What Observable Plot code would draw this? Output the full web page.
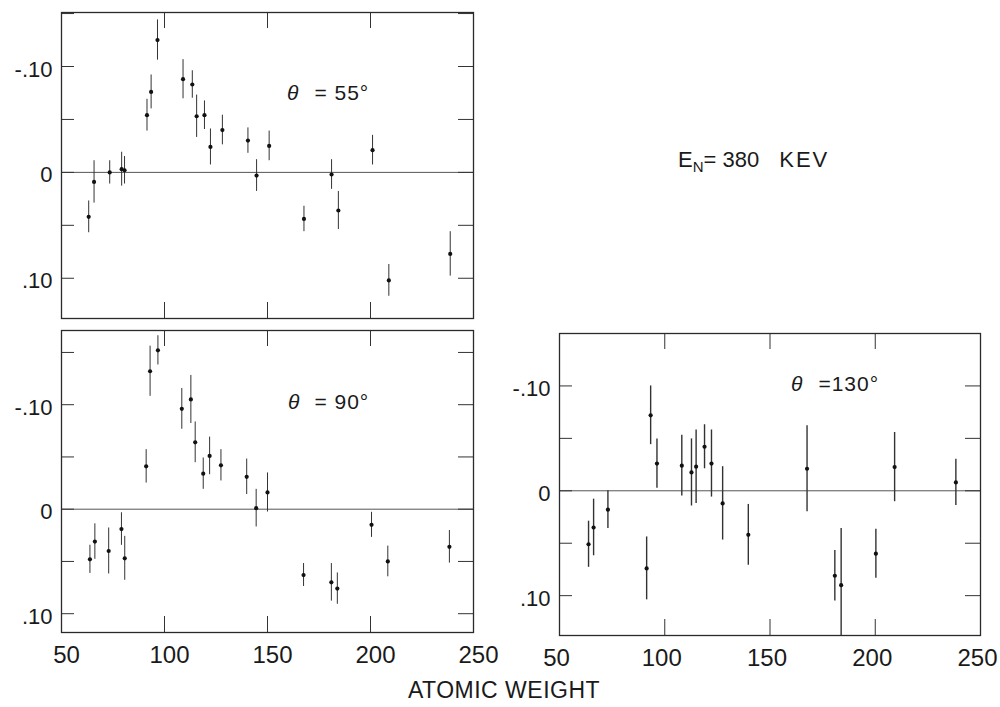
<!DOCTYPE html>
<html><head><meta charset="utf-8">
<script src="https://cdn.jsdelivr.net/npm/d3@7"></script>
<script src="https://cdn.jsdelivr.net/npm/@observablehq/plot@0.6"></script>
<style>
body{margin:0;background:#fff;}
#wrap{position:relative;width:1000px;height:707px;overflow:hidden;background:#fff;font-family:"Liberation Sans",Arial,sans-serif;color:#1a1a1a;}
.p{position:absolute;}
.p svg{overflow:visible;}
.lbl{position:absolute;white-space:pre;line-height:1;color:#1a1a1a;}
</style></head><body>
<div id="wrap">
  <div class="p" id="p55" style="left:0;top:0"></div>
  <div class="p" id="p90" style="left:0;top:322px"></div>
  <div class="p" id="p130" style="left:490px;top:322px"></div>
  <div class="lbl" style="left:287px;top:82px;font-size:21px;letter-spacing:1px"><i>θ</i><span style="margin-left:15px">= 55°</span></div>
  <div class="lbl" style="left:288px;top:391px;font-size:21px;letter-spacing:1px"><i>θ</i><span style="margin-left:14px">= 90°</span></div>
  <div class="lbl" style="left:791px;top:373px;font-size:21px;letter-spacing:1px"><i>θ</i><span style="margin-left:15px">=130°</span></div>
  <div class="lbl" style="left:678px;top:149px;font-size:22px">E<sub style="font-size:15px;vertical-align:-5px">N</sub>= 380<span style="margin-left:20px;letter-spacing:2px">KEV</span></div>
  <div class="lbl" style="left:0;width:1008px;text-align:center;top:679px;font-size:23px;letter-spacing:0.5px">ATOMIC WEIGHT</div>
</div>
<script>
// θ = 55°
const weights55 = [63.2, 65.8, 73.4, 79.2, 80.6, 91.5, 93.5, 96.6, 109.0, 113.5, 115.6, 119.4, 122.3, 128.1, 140.5, 144.7, 150.8, 167.7, 181.1, 184.4, 201.0, 208.9, 238.7];
const values55  = [0.042, 0.009, 0.000, -0.003, -0.002, -0.054, -0.076, -0.125, -0.088, -0.083, -0.053, -0.054, -0.024, -0.040, -0.030, 0.003, -0.025, 0.044, 0.002, 0.036, -0.021, 0.102, 0.077];
const errors55  = [0.015, 0.020, 0.011, 0.016, 0.013, 0.015, 0.016, 0.019, 0.0185, 0.013, 0.020, 0.0135, 0.017, 0.014, 0.012, 0.015, 0.014, 0.012, 0.014, 0.018, 0.014, 0.015, 0.021];
// θ = 90°
const weights90 = [63.8, 66.2, 72.9, 79.1, 80.7, 91.1, 93.0, 96.8, 108.4, 112.8, 114.9, 118.8, 121.9, 127.4, 139.9, 144.5, 150.0, 167.5, 181.0, 183.9, 200.5, 208.4, 238.3];
const values90  = [0.048, 0.031, 0.040, 0.019, 0.047, -0.041, -0.132, -0.152, -0.096, -0.105, -0.064, -0.034, -0.051, -0.042, -0.031, -0.001, -0.016, 0.063, 0.070, 0.076, 0.015, 0.050, 0.036];
const errors90  = [0.0135, 0.017, 0.022, 0.0156, 0.021, 0.016, 0.024, 0.014, 0.0195, 0.023, 0.0195, 0.015, 0.018, 0.015, 0.017, 0.018, 0.0187, 0.011, 0.018, 0.015, 0.012, 0.0147, 0.0156];
// θ = 130°
const weights130 = [63.8, 66.2, 73.0, 91.4, 93.3, 96.3, 108.1, 112.7, 114.9, 118.9, 122.2, 127.5, 139.7, 167.6, 180.8, 183.8, 200.3, 209.2, 238.3];
const values130  = [0.051, 0.035, 0.018, 0.074, -0.072, -0.026, -0.024, -0.0175, -0.023, -0.042, -0.026, 0.012, 0.042, -0.021, 0.081, 0.090, 0.060, -0.0226, -0.008];
const errors130  = [0.022, 0.027, 0.018, 0.030, 0.028, 0.0235, 0.029, 0.032, 0.035, 0.021, 0.032, 0.035, 0.029, 0.041, 0.024, 0.054, 0.0234, 0.033, 0.022];

const xInnerTicks = [100, 150, 200];
const xLabelTicks = [50, 100, 150, 200, 250];
const yInnerTicks = [-0.15, -0.10, -0.05, 0, 0.05, 0.10];
const yLabelTicks = [-0.10, 0, 0.10];
const yLabelText = {"-0.1": "-.10", "0": "0", "0.1": ".10"};

function panel(el, weights, values, errors, cfg) {
  const data = weights.map((a, i) => ({a, v: values[i], e: errors[i]}));
  const pw = cfg.width - cfg.ml - cfg.mr;
  const ph = cfg.height - cfg.mt - cfg.mb;
  const marks = [
    Plot.ruleY([0], {stroke: "#555", strokeWidth: 1}),
    Plot.ruleX(data, {x: "a", y1: d => d.v - d.e, y2: d => d.v + d.e, stroke: "#333", strokeWidth: cfg.bw, clip: true}),
    Plot.dot(data, {x: "a", y: "v", r: 2.1, fill: "#111", stroke: "none"}),
    Plot.tickY(yInnerTicks, {y: d => d, insetRight: pw - 13, stroke: "#333"}),
    Plot.tickY(yInnerTicks, {y: d => d, insetLeft: pw - 15, stroke: "#333"}),
    Plot.tickX(xInnerTicks, {x: d => d, insetBottom: ph - 16, stroke: "#333"}),
    Plot.tickX(xInnerTicks, {x: d => d, insetTop: ph - 16, stroke: "#333"}),
    Plot.frame({stroke: "#2a2a2a", strokeWidth: 1.3}),
    Plot.axisY({anchor: "left", ticks: yLabelTicks, tickSize: 0, tickPadding: 9, dy: 3, fontSize: 22, label: null,
      tickFormat: d => yLabelText[String(+d.toFixed(2))]})
  ];
  if (cfg.xAxis) marks.push(Plot.axisX({anchor: "bottom", ticks: xLabelTicks, tickSize: 0, tickPadding: 13, dx: cfg.xdx, fontSize: 24, label: null,
    tickFormat: d => String(d)}));
  const chart = Plot.plot({
    width: cfg.width, height: cfg.height,
    marginTop: cfg.mt, marginRight: cfg.mr, marginBottom: cfg.mb, marginLeft: cfg.ml,
    style: {background: "transparent", color: "#1a1a1a", fontFamily: "Liberation Sans, Arial, sans-serif", overflow: "visible"},
    x: {domain: [50, 250], axis: cfg.xAxis ? undefined : null, label: null},
    y: {domain: cfg.yDomain, label: null},
    marks
  });
  document.getElementById(el).appendChild(chart);
}

panel("p55", weights55, values55, errors55, {width: 490, height: 322, mt: 12, mr: 17, mb: 4, ml: 61, yDomain: [0.138, -0.151], xAxis: false, bw: 1});
panel("p90", weights90, values90, errors90, {width: 490, height: 345, mt: 8, mr: 17, mb: 35, ml: 61, yDomain: [0.118, -0.171], xAxis: true, xdx: 5, bw: 1});
panel("p130", weights130, values130, errors130, {width: 510, height: 345, mt: 11, mr: 20, mb: 32, ml: 69, yDomain: [0.138, -0.150], xAxis: true, xdx: -3, bw: 1.4});
</script>
</body></html>
